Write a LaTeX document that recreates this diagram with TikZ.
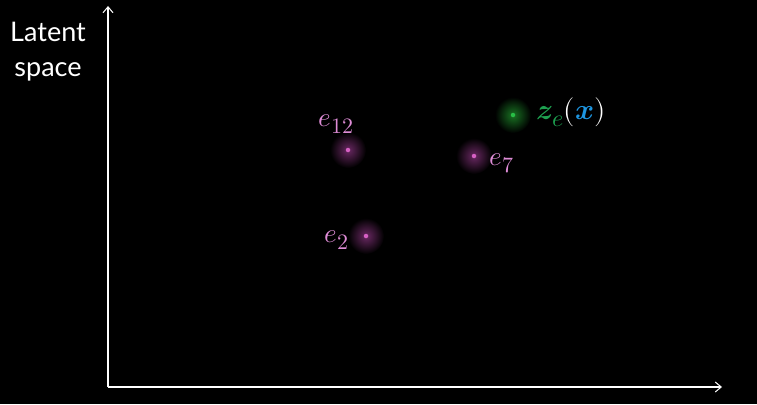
\documentclass[tikz,border=0pt]{standalone}
\usepackage{fontspec}
\usepackage{unicode-math}
\setmathfont{Latin Modern Math}
\setsansfont{Lato}
\DeclareMathSizes{27}{27}{22}{17}
\DeclareMathSizes{29}{29}{24}{18}
\usetikzlibrary{arrows.meta}
\definecolor{pinklab}{RGB}{222,140,214}
\definecolor{pinkdot}{RGB}{214,96,196}
\definecolor{pinkglow}{RGB}{105,40,98}
\definecolor{greendot}{RGB}{40,190,70}
\definecolor{greenglow}{RGB}{25,115,35}
\definecolor{zgreen}{RGB}{30,160,80}
\definecolor{xblue}{RGB}{30,150,225}
\tikzset{
  axis/.style={draw=white, line width=1.2pt, -{Straight Barb[length=6pt,width=10pt,line width=1pt]}},
  lab/.style={text=pinklab, font=\fontsize{27}{29}\selectfont, inner sep=0pt},
  pglow/.style={inner color=pinkglow, outer color=black},
  gglow/.style={inner color=greenglow, outer color=black},
  dot/.style={circle, inner sep=0pt, minimum size=4.5pt},
}
\begin{document}
\begin{tikzpicture}[x=1pt,y=-1pt]
\fill[black] (0,0) rectangle (757,404);
\useasboundingbox (0,0) rectangle (757,404);
\coordinate (O) at (108,387);
\coordinate (Ytop) at (108,6);
\coordinate (Xend) at (722,387);
\draw[axis] (O) -- (Ytop);
\draw[axis] (O) -- (Xend);
\node[text=white, font=\sffamily\fontsize{27}{35}\selectfont, align=center] (title) at (48,52) {Latent\\space};
% glows
\shade[pglow] (348,150) circle (18);
\shade[pglow] (474,156) circle (18);
\shade[pglow] (366,236) circle (18);
\shade[gglow] (513,115) circle (18);
\node[dot, fill=pinkdot] (e12) at (348,150) {};
\node[dot, fill=pinkdot] (e7) at (474,156) {};
\node[dot, fill=pinkdot] (e2) at (366,236) {};
\node[dot, fill=greendot] (ze) at (513,115) {};
\node[lab] (le12) at (336,124) {$e_{12}$};
\node[lab] (le7) at (502,163) {$e_{7}$};
\node[lab] (le2) at (337,240) {$e_{2}$};
\node[inner sep=0pt, font=\fontsize{29}{31}\selectfont, anchor=west] (lz) at (536,112) {$\color{zgreen}\symbfit{z}_{e}\color{white}(\color{xblue}\symbfit{x}\color{white})$};
\end{tikzpicture}
\end{document}
